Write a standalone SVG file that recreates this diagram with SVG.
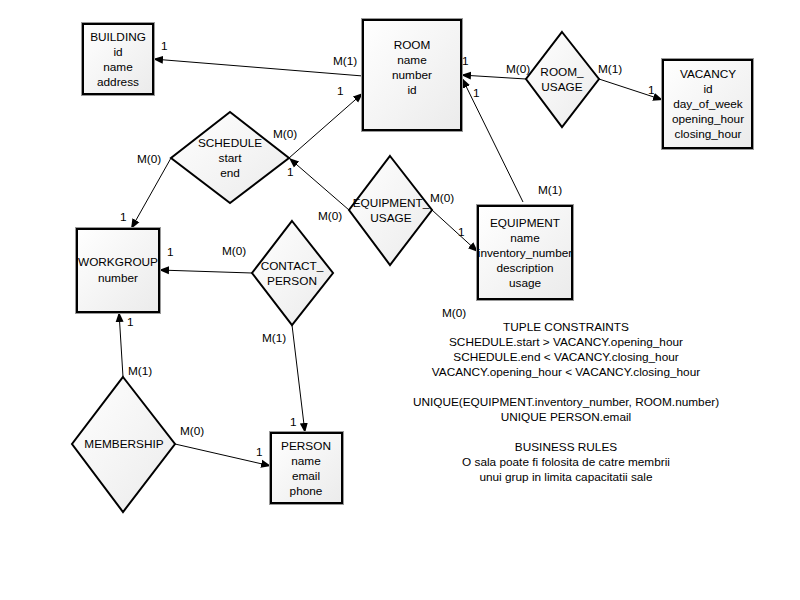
<svg xmlns="http://www.w3.org/2000/svg" width="800" height="600" viewBox="0 0 800 600">
<defs>
<linearGradient id="g" x1="0" y1="0" x2="1" y2="1">
<stop offset="0" stop-color="#ffffff"/>
<stop offset="1" stop-color="#ebebeb"/>
</linearGradient>
<marker id="arr" viewBox="0 0 10 10" refX="10" refY="5" markerWidth="10" markerHeight="10" markerUnits="userSpaceOnUse" orient="auto">
<path d="M0,1 L10,5 L0,9 Z" fill="#000"/>
</marker>
<clipPath id="cEq"><rect x="478" y="206" width="94" height="93"/></clipPath>
<clipPath id="cWg"><rect x="77" y="229" width="82" height="83"/></clipPath>
</defs>
<style>
text{font-family:"Liberation Sans",Arial,sans-serif;font-size:11.8px;fill:#000}
.c{text-anchor:middle}
.box{fill:url(#g);stroke:#000;stroke-width:2}
.halo{fill:none;stroke:#999;stroke-width:1}
.dia{fill:url(#g);stroke:#000;stroke-width:2;stroke-linejoin:miter}
.ln{stroke:#000;stroke-width:1;fill:none;marker-end:url(#arr)}
</style>
<rect width="800" height="600" fill="#fff"/>

<g id="connectors">
<line class="ln" x1="363" y1="76" x2="153" y2="59"/>
<line class="ln" x1="289" y1="158" x2="363" y2="93"/>
<line class="ln" x1="349" y1="210" x2="289" y2="158"/>
<line class="ln" x1="171" y1="158" x2="131" y2="229"/>
<line class="ln" x1="432" y1="210" x2="478" y2="252"/>
<line class="ln" x1="526" y1="79" x2="461" y2="75"/>
<line class="ln" x1="599" y1="79" x2="663" y2="100"/>
<line class="ln" x1="523" y1="202" x2="462" y2="78"/>
<line class="ln" x1="252" y1="273" x2="159" y2="270"/>
<line class="ln" x1="292" y1="325" x2="305" y2="433"/>
<line class="ln" x1="123" y1="377" x2="119" y2="312"/>
<line class="ln" x1="175" y1="444" x2="271" y2="466"/>
</g>

<g id="building">
<rect class="halo" x="81.5" y="22.5" width="73" height="73"/>
<rect class="box" x="83" y="24" width="70" height="70"/>
<text class="c" x="118" y="41">BUILDING</text>
<text class="c" x="118" y="56">id</text>
<text class="c" x="118" y="71">name</text>
<text class="c" x="118" y="86">address</text>
</g>

<g id="room">
<rect class="halo" x="361.5" y="18.5" width="101" height="113"/>
<rect class="box" x="363" y="20" width="98" height="110"/>
<text class="c" x="412" y="49">ROOM</text>
<text class="c" x="412" y="64">name</text>
<text class="c" x="412" y="79">number</text>
<text class="c" x="412" y="94">id</text>
</g>

<g id="room_usage">
<polygon class="dia" points="562,32 599,79 562,127 526,79"/>
<text class="c" x="562" y="76">ROOM_</text>
<text class="c" x="562" y="91">USAGE</text>
</g>

<g id="vacancy">
<rect class="halo" x="661.5" y="58.5" width="92" height="91"/>
<rect class="box" x="663" y="60" width="89" height="88"/>
<text class="c" x="708" y="78">VACANCY</text>
<text class="c" x="708" y="93">id</text>
<text class="c" x="708" y="108">day_of_week</text>
<text class="c" x="708" y="123">opening_hour</text>
<text class="c" x="708" y="138">closing_hour</text>
</g>

<g id="schedule">
<polygon class="dia" points="230,112 289,158 230,203 171,158"/>
<text class="c" x="230" y="147">SCHEDULE</text>
<text class="c" x="230" y="162">start</text>
<text class="c" x="230" y="177">end</text>
</g>

<g id="equipment_usage">
<polygon class="dia" points="390,156 432,210 390,265 349,210"/>
<text class="c" x="391" y="207">EQUIPMENT_</text>
<text class="c" x="391" y="222">USAGE</text>
</g>

<g id="equipment">
<rect class="halo" x="476.5" y="204.5" width="97" height="96"/>
<rect class="box" x="478" y="206" width="94" height="93"/>
<g clip-path="url(#cEq)">
<text class="c" x="525" y="227">EQUIPMENT</text>
<text class="c" x="525" y="242">name</text>
<text class="c" x="525" y="257">inventory_number</text>
<text class="c" x="525" y="272">description</text>
<text class="c" x="525" y="287">usage</text>
</g>
</g>

<g id="workgroup">
<rect class="halo" x="75.5" y="227.5" width="85" height="86"/>
<rect class="box" x="77" y="229" width="82" height="83"/>
<g clip-path="url(#cWg)">
<text class="c" x="118" y="266">WORKGROUP</text>
<text class="c" x="118" y="282">number</text>
</g>
</g>

<g id="contact_person">
<polygon class="dia" points="292,221 333,273 292,325 252,273"/>
<text class="c" x="292" y="270">CONTACT_</text>
<text class="c" x="292" y="285">PERSON</text>
</g>

<g id="membership">
<polygon class="dia" points="123,377 175,444 123,512 72,444"/>
<text class="c" x="124" y="448">MEMBERSHIP</text>
</g>

<g id="person">
<rect class="halo" x="269.5" y="431.5" width="74" height="73"/>
<rect class="box" x="271" y="433" width="71" height="70"/>
<text class="c" x="306" y="450">PERSON</text>
<text class="c" x="306" y="465">name</text>
<text class="c" x="306" y="480">email</text>
<text class="c" x="306" y="495">phone</text>
</g>

<g id="labels">
<text x="161" y="50">1</text>
<text x="333" y="65">M(1)</text>
<text x="337" y="95">1</text>
<text x="273" y="138">M(0)</text>
<text x="287" y="176">1</text>
<text x="318" y="220">M(0)</text>
<text x="137" y="163">M(0)</text>
<text x="120" y="221">1</text>
<text x="430" y="202">M(0)</text>
<text x="458" y="236">1</text>
<text x="462" y="65">1</text>
<text x="506" y="73">M(0)</text>
<text x="598" y="73">M(1)</text>
<text x="648" y="94">1</text>
<text x="473" y="97">1</text>
<text x="538" y="194">M(1)</text>
<text x="167" y="256">1</text>
<text x="222" y="255">M(0)</text>
<text x="262" y="342">M(1)</text>
<text x="290" y="426">1</text>
<text x="127" y="326">1</text>
<text x="128" y="375">M(1)</text>
<text x="180" y="435">M(0)</text>
<text x="256" y="456">1</text>
<text x="442" y="317">M(0)</text>
</g>

<g id="notes">
<text class="c" x="566" y="331">TUPLE CONSTRAINTS</text>
<text class="c" x="566" y="346">SCHEDULE.start &gt; VACANCY.opening_hour</text>
<text class="c" x="566" y="361">SCHEDULE.end &lt; VACANCY.closing_hour</text>
<text class="c" x="566" y="376">VACANCY.opening_hour &lt; VACANCY.closing_hour</text>
<text class="c" x="566" y="406">UNIQUE(EQUIPMENT.inventory_number, ROOM.number)</text>
<text class="c" x="566" y="421">UNIQUE PERSON.email</text>
<text class="c" x="566" y="451">BUSINESS RULES</text>
<text class="c" x="566" y="466">O sala poate fi folosita de catre membrii</text>
<text class="c" x="566" y="481">unui grup in limita capacitatii sale</text>
</g>
</svg>
